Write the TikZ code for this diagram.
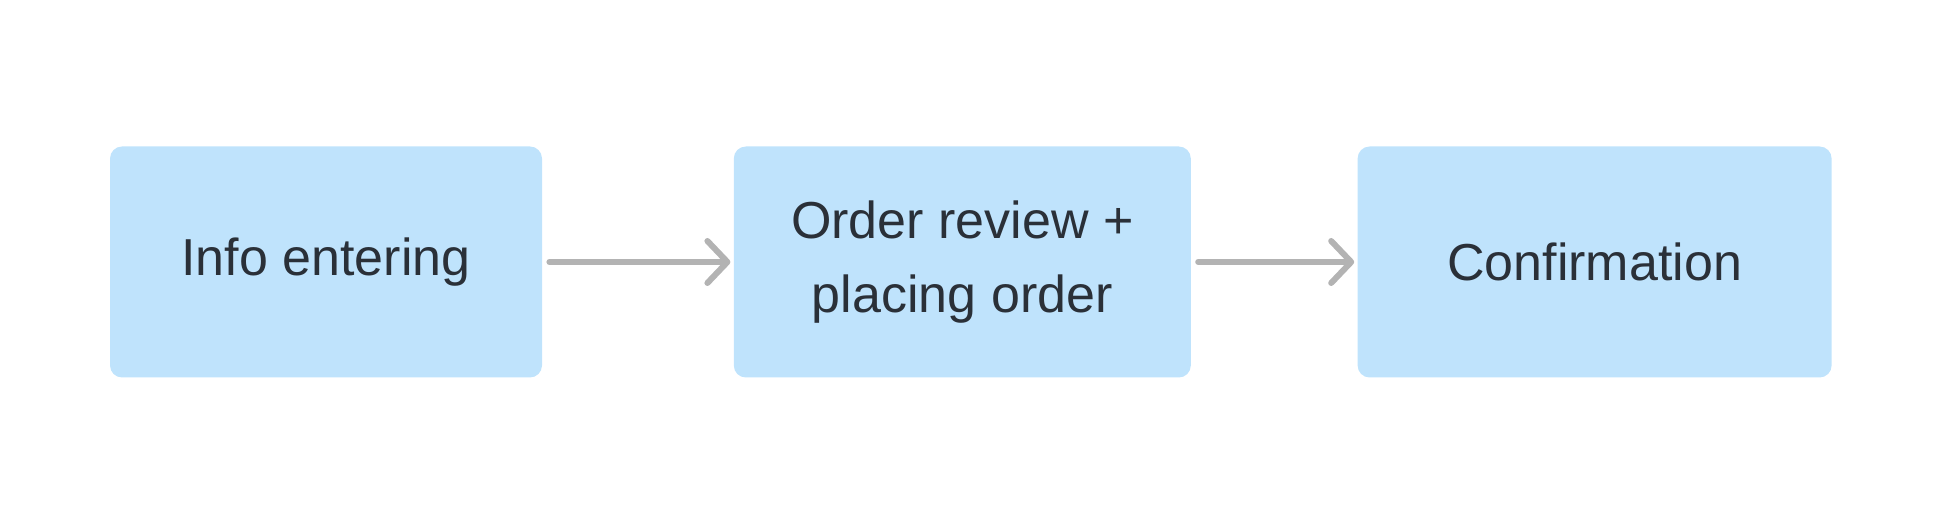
\documentclass[tikz,border=0pt]{standalone}
\usepackage{fontspec}
\setmainfont{Liberation Sans}
\usepackage{xcolor}
\usetikzlibrary{arrows.meta, positioning}
\definecolor{boxblue}{HTML}{BFE3FC}
\definecolor{txtdark}{HTML}{2A3038}
\definecolor{arrowgray}{HTML}{B3B3B3}

\begin{document}
\begin{tikzpicture}[
  node distance=95.5pt,
  stage/.style={rectangle, fill=boxblue, rounded corners=6pt,
                minimum height=115.5pt, font=\fontsize{26}{37}\selectfont,
                text=txtdark, align=center, inner sep=0pt},
  flow/.style={line width=3pt, draw=arrowgray, line cap=round,
               -{Straight Barb[length=10pt, width=21pt, line cap=round, line join=round]},
               shorten <=3.5pt, shorten >=1.5pt}
]
\useasboundingbox (0,0) rectangle (978pt,259.5pt);

% Three stages of the checkout, left to right
\node[stage, minimum width=216pt] (info) at (163pt,128.5pt) {Info entering};
\node[stage, minimum width=228.5pt, right=95.5pt of info] (review) {Order review +\\placing order};
\node[stage, minimum width=237pt, right=83pt of review] (confirm) {Confirmation};

% Connectors
\draw[flow] (info) -- (review);
\draw[flow] (review) -- (confirm);

\end{tikzpicture}
\end{document}
